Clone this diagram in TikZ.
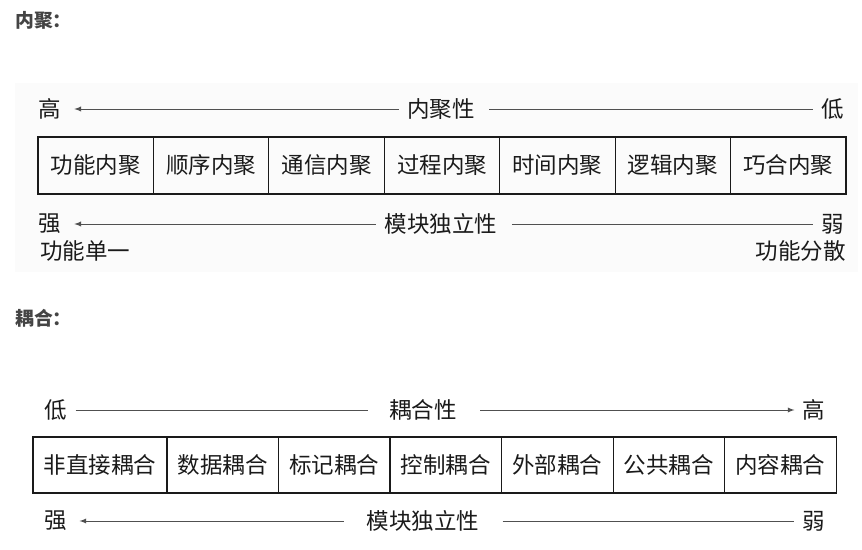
\documentclass[tikz,border=0pt]{standalone}
\usepackage{fontspec}
\setmainfont{Noto Sans CJK SC}
\usetikzlibrary{positioning}
\definecolor{txtgray}{HTML}{1A1A1A}
\definecolor{headgray}{HTML}{444444}
\definecolor{linegray}{HTML}{505050}
\tikzset{
  lbl/.style={text=txtgray, font=\fontsize{16}{18}\selectfont, inner sep=0.2cm},
  head/.style={text=headgray, font=\fontsize{13.4}{15}\selectfont\bfseries, inner sep=0pt, anchor=west},
  cell/.style={draw=txtgray, line width=0.9pt, outer sep=0pt, inner sep=0pt,
    text=txtgray, font=\fontsize{16}{18}\selectfont},
  cellA/.style={cell, minimum width=2.885cm, minimum height=1.425cm},
  cellB/.style={cell, minimum width=2.7875cm, minimum height=1.4cm},
  arr/.style={draw=linegray, line width=0.65pt}
}
\begin{document}
\begin{tikzpicture}[x=0.025cm, y=-0.025cm]
  \useasboundingbox (0,0) rectangle (862,550);
  \fill[black!1.5] (15,83) rectangle (858,272);

  %titoli
  \node[head] (titleA) at (15,20) {内聚：};
  \node[head] (titleB) at (15,318) {耦合：};

  %inner cohesion: scala sopra
  \node[lbl] (hiA) at (50,109) {高};
  \node[lbl] (cohA) at (441,109) {内聚性};
  \node[lbl] (loA) at (833,109) {低};
  \draw[arr, latex-, shorten <=0.12cm] (hiA) -- (cohA);
  \draw[arr, shorten <=0.16cm] (cohA) -- (loA);

  %caselle
  \node[cellA, anchor=west] (ca1) at (38,165.5) {功能内聚};
  \node[cellA, right=0pt of ca1] (ca2) {顺序内聚};
  \node[cellA, right=0pt of ca2] (ca3) {通信内聚};
  \node[cellA, right=0pt of ca3] (ca4) {过程内聚};
  \node[cellA, right=0pt of ca4] (ca5) {时间内聚};
  \node[cellA, right=0pt of ca5] (ca6) {逻辑内聚};
  \node[cellA, right=0pt of ca6] (ca7) {巧合内聚};

  %scala sotto
  \node[lbl] (strA) at (50,224) {强};
  \node[lbl] (indA) at (441,224) {模块独立性};
  \node[lbl] (wkA) at (833,224) {弱};
  \draw[arr, latex-, shorten <=0.12cm] (strA) -- (indA);
  \draw[arr, shorten <=0.16cm] (indA) -- (wkA);
  \node[lbl, anchor=west] (oneA) at (32,251) {功能单一};
  \node[lbl, anchor=east] (spreadA) at (854,251) {功能分散};

  %coupling: scala sopra
  \node[lbl] (loB) at (56,410) {低};
  \node[lbl] (coupB) at (423,410) {耦合性};
  \node[lbl] (hiB) at (814,410) {高};
  \draw[arr, shorten >=0.33cm] (loB) -- (coupB);
  \draw[arr, -latex, shorten <=0.38cm] (coupB) -- (hiB);

  %caselle
  \node[cellB, anchor=west, minimum width=3.35cm] (cb1) at (33,465) {非直接耦合};
  \node[cellB, right=0pt of cb1] (cb2) {数据耦合};
  \node[cellB, right=0pt of cb2] (cb3) {标记耦合};
  \node[cellB, right=0pt of cb3] (cb4) {控制耦合};
  \node[cellB, right=0pt of cb4] (cb5) {外部耦合};
  \node[cellB, right=0pt of cb5] (cb6) {公共耦合};
  \node[cellB, right=0pt of cb6] (cb7) {内容耦合};

  %scala sotto
  \node[lbl] (strB) at (56,521) {强};
  \node[lbl] (indB) at (423,521) {模块独立性};
  \node[lbl] (wkB) at (814,521) {弱};
  \draw[arr, latex-, shorten <=0.1cm, shorten >=0.36cm] (strB) -- (indB);
  \draw[arr, shorten <=0.38cm] (indB) -- (wkB);
\end{tikzpicture}
\end{document}
